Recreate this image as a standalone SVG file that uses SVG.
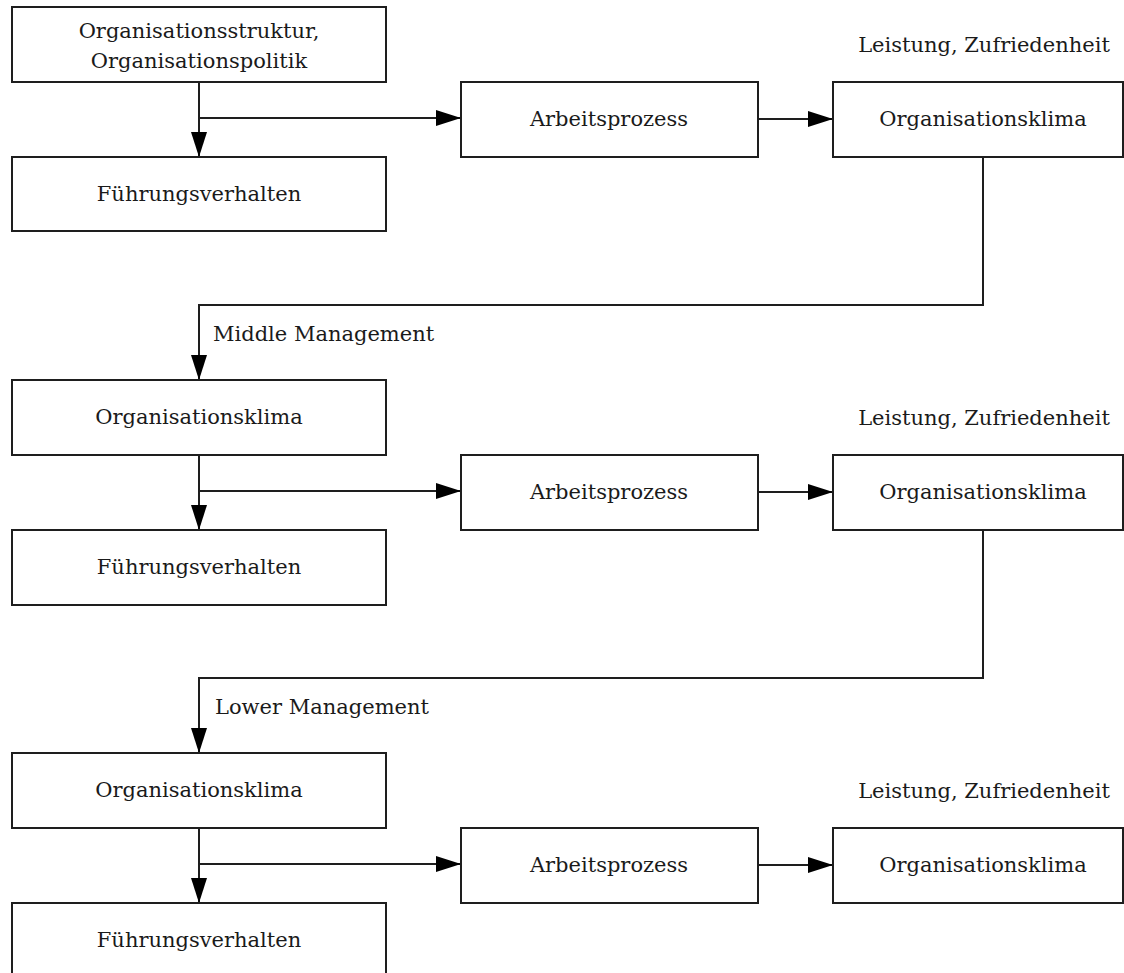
<svg xmlns="http://www.w3.org/2000/svg" width="1124" height="973" viewBox="0 0 1124 973">
  <style>
    .box { fill: #ffffff; stroke: #1e1e1e; stroke-width: 2; }
    .lbl { font-family: "DejaVu Serif", "Liberation Serif", serif; font-size: 21px; fill: #1a1a1a; text-anchor: middle; }
    .free { font-family: "DejaVu Serif", "Liberation Serif", serif; font-size: 21px; fill: #1a1a1a; }
    .wire { fill: none; stroke: #1e1e1e; stroke-width: 2; }
  </style>
  <defs>
    <marker id="head" viewBox="0 0 25 16" refX="25" refY="8" markerWidth="25" markerHeight="16" markerUnits="userSpaceOnUse" orient="auto">
      <path d="M0,0 L25,8 L0,16 Z" fill="#000000"/>
    </marker>
  </defs>
  <rect width="1124" height="973" fill="#ffffff"/>

  <!-- Connectors -->
  <g id="connectors">
    <!-- top level -->
    <line class="wire" x1="199" y1="82" x2="199" y2="157" marker-end="url(#head)"/>
    <line class="wire" x1="199" y1="118" x2="461" y2="118" marker-end="url(#head)"/>
    <line class="wire" x1="758" y1="119" x2="833" y2="119" marker-end="url(#head)"/>
    <polyline class="wire" points="983,157 983,305 199,305 199,380" marker-end="url(#head)"/>
    <!-- middle management -->
    <line class="wire" x1="199" y1="455" x2="199" y2="530" marker-end="url(#head)"/>
    <line class="wire" x1="199" y1="491" x2="461" y2="491" marker-end="url(#head)"/>
    <line class="wire" x1="758" y1="492" x2="833" y2="492" marker-end="url(#head)"/>
    <polyline class="wire" points="983,530 983,678 199,678 199,753" marker-end="url(#head)"/>
    <!-- lower management -->
    <line class="wire" x1="199" y1="828" x2="199" y2="903" marker-end="url(#head)"/>
    <line class="wire" x1="199" y1="864" x2="461" y2="864" marker-end="url(#head)"/>
    <line class="wire" x1="758" y1="865" x2="833" y2="865" marker-end="url(#head)"/>
  </g>

  <!-- Level labels -->
  <text class="free" x="213" y="341">Middle Management</text>
  <text class="free" x="215" y="714">Lower Management</text>

  <!-- Top level -->
  <g id="org-struktur">
    <rect class="box" x="12" y="7" width="374" height="75"/>
    <text class="lbl" x="199" y="38">Organisationsstruktur,</text>
    <text class="lbl" x="199" y="68">Organisationspolitik</text>
  </g>
  <g id="fuehrung-1">
    <rect class="box" x="12" y="157" width="374" height="74"/>
    <text class="lbl" x="199" y="201">Führungsverhalten</text>
  </g>
  <g id="arbeit-1">
    <rect class="box" x="461" y="82" width="297" height="75"/>
    <text class="lbl" x="609" y="126">Arbeitsprozess</text>
  </g>
  <g id="klima-out-1">
    <text class="lbl" x="984" y="52">Leistung, Zufriedenheit</text>
    <rect class="box" x="833" y="82" width="290" height="75"/>
    <text class="lbl" x="983" y="126">Organisationsklima</text>
  </g>

  <!-- Middle management -->
  <g id="klima-in-2">
    <rect class="box" x="12" y="380" width="374" height="75"/>
    <text class="lbl" x="199" y="424">Organisationsklima</text>
  </g>
  <g id="fuehrung-2">
    <rect class="box" x="12" y="530" width="374" height="75"/>
    <text class="lbl" x="199" y="574">Führungsverhalten</text>
  </g>
  <g id="arbeit-2">
    <rect class="box" x="461" y="455" width="297" height="75"/>
    <text class="lbl" x="609" y="499">Arbeitsprozess</text>
  </g>
  <g id="klima-out-2">
    <text class="lbl" x="984" y="425">Leistung, Zufriedenheit</text>
    <rect class="box" x="833" y="455" width="290" height="75"/>
    <text class="lbl" x="983" y="499">Organisationsklima</text>
  </g>

  <!-- Lower management -->
  <g id="klima-in-3">
    <rect class="box" x="12" y="753" width="374" height="75"/>
    <text class="lbl" x="199" y="797">Organisationsklima</text>
  </g>
  <g id="fuehrung-3">
    <rect class="box" x="12" y="903" width="374" height="80"/>
    <text class="lbl" x="199" y="947">Führungsverhalten</text>
  </g>
  <g id="arbeit-3">
    <rect class="box" x="461" y="828" width="297" height="75"/>
    <text class="lbl" x="609" y="872">Arbeitsprozess</text>
  </g>
  <g id="klima-out-3">
    <text class="lbl" x="984" y="798">Leistung, Zufriedenheit</text>
    <rect class="box" x="833" y="828" width="290" height="75"/>
    <text class="lbl" x="983" y="872">Organisationsklima</text>
  </g>
</svg>
